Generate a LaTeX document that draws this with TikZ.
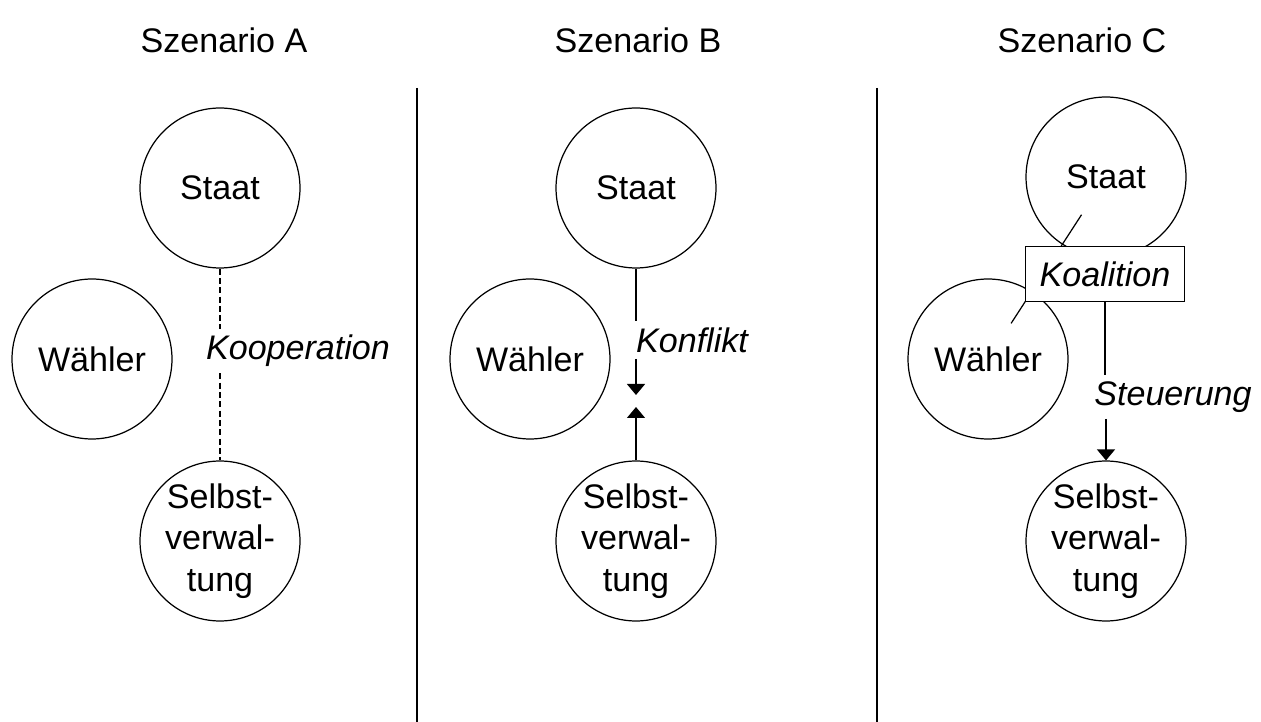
\documentclass[tikz,border=0pt]{standalone}
\usepackage{fontspec}
\setmainfont{Liberation Sans}
\usetikzlibrary{arrows.meta}

\begin{document}
\begin{tikzpicture}[x=0.02cm,y=-0.02cm,line width=0.7pt,
  every node/.style={font=\fontsize{19.4}{23.5}\selectfont},
  kreis/.style={draw,circle,minimum size=3.2cm,inner sep=0pt,align=center},
  etikett/.style={font=\fontsize{19.4}{23.5}\selectfont\itshape},
  gestrichelt/.style={dash pattern=on 3.4pt off 1.9pt},
  pfeil/.style={-{Triangle[width=0.36cm,length=0.22cm]}}]
\useasboundingbox (0,0) rectangle (1261,722);
% Szenario A
\node (titelA) at (224,40) {Szenario A};
\node[kreis] (staatA) at (220,188) {Staat};
\node[kreis] (waehlerA) at (92,359) {Wähler};
\node[kreis] (selbstA) at (220,541) {Selbst-\\verwal-\\tung};
\node[etikett] (koopA) at (298,351) {Kooperation};
\draw[gestrichelt] (staatA) -- (staatA |- koopA.north);
\draw[gestrichelt] (staatA |- koopA.south) -- (selbstA);
\draw (417,88) -- (417,722);
% Szenario B
\node (titelB) at (638,40) {Szenario B};
\node[kreis] (staatB) at (636,188) {Staat};
\node[kreis] (waehlerB) at (530,359) {Wähler};
\node[kreis] (selbstB) at (636,541) {Selbst-\\verwal-\\tung};
\node[etikett] (konfB) at (692,340) {Konflikt};
\coordinate (spitzeB1) at (636,395);
\coordinate (spitzeB2) at (636,407);
\draw (staatB) -- (staatB |- konfB.north);
\draw[pfeil] (staatB |- konfB.south) -- (spitzeB1);
\draw[pfeil] (selbstB) -- (spitzeB2);
\draw (877,88) -- (877,722);
% Szenario C
\node (titelC) at (1082,40) {Szenario C};
\node[kreis] (staatC) at (1106,177) {Staat};
\node[kreis] (waehlerC) at (988,359) {Wähler};
\node[kreis] (selbstC) at (1106,541) {Selbst-\\verwal-\\tung};
\draw[shorten <=0.9cm,shorten >=0.85cm] (staatC.center) -- (waehlerC.center);
\node[etikett,draw,fill=white,minimum width=3.18cm,minimum height=1.1cm] (koalC) at (1105,274) {Koalition};
\node[etikett] (steuC) at (1173,397) {Steuerung};
\draw (koalC) -- (koalC |- steuC.north);
\draw[pfeil] (selbstC |- steuC.south) -- (selbstC);
\end{tikzpicture}
\end{document}
